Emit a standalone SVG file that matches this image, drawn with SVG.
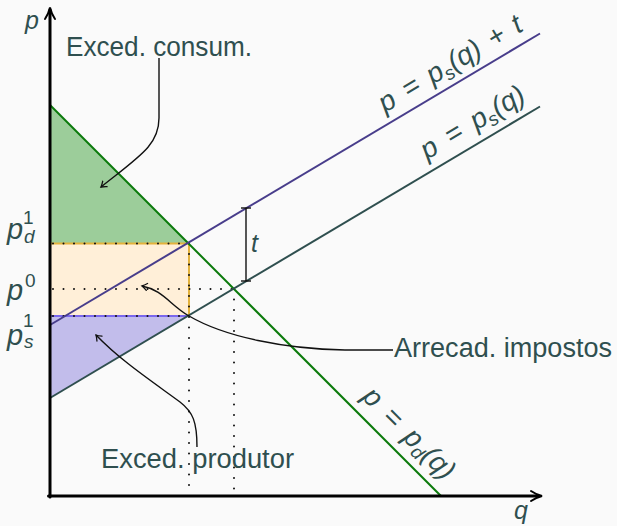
<svg xmlns="http://www.w3.org/2000/svg" width="617" height="526" viewBox="0 0 617 526">
  <defs>
    <marker id="tip" viewBox="-6 -5 8 10" markerWidth="8" markerHeight="10" refX="0" refY="0" orient="auto" markerUnits="userSpaceOnUse">
      <path d="M-5,-3.5 Q-2,-1 0,0 Q-2,1 -5,3.5" fill="none" stroke="#111" stroke-width="1.3" stroke-linecap="round"/>
    </marker>
  </defs>
  <style>
    .lbl { font-family: "Liberation Sans", Arial, sans-serif; font-size: 27px; fill: #2f4f4f; }
    .math { font-family: "Liberation Sans", Arial, sans-serif; font-style: italic; fill: #2f4f4f; }
    .num { font-family: "Liberation Sans", Arial, sans-serif; font-style: normal; font-size: 19px; fill: #2f4f4f; }
    .dot { stroke: #111; stroke-width: 2; stroke-linecap: round; stroke-dasharray: 0 10.5; fill: none; }
    .conn { fill: none; stroke: #111; stroke-width: 1.4; }
  </style>
  <rect x="0" y="0" width="617" height="526" fill="#fafafa"/>

  <g id="areas">
    <polygon id="consumer-surplus" points="50,105 189,243.5 50,243.5" fill="#9ccd9a"/>
    <rect id="tax-revenue" x="50" y="243.5" width="139" height="72.5" fill="#ffefd8"/>
    <polygon id="producer-surplus" points="50,316 189,316 50,398" fill="#c2bdeb"/>
    <line x1="50" y1="243.5" x2="189" y2="243.5" stroke="#e3b23c" stroke-width="2"/>
    <line x1="189" y1="243.5" x2="189" y2="316" stroke="#e3b23c" stroke-width="2"/>
    <line x1="50" y1="316" x2="189" y2="316" stroke="#7b68ee" stroke-width="2"/>
  </g>

  <g id="guides">
    <line class="dot" x1="53" y1="243.5" x2="189" y2="243.5"/>
    <line class="dot" x1="53" y1="289" x2="234" y2="289"/>
    <line class="dot" x1="53" y1="316" x2="189" y2="316"/>
    <line class="dot" x1="189" y1="243.5" x2="189" y2="494"/>
    <line class="dot" x1="234" y1="289" x2="234" y2="494"/>
  </g>

  <g id="curves">
    <line id="demand" x1="50" y1="105" x2="441" y2="496" stroke="#0b7a0b" stroke-width="2"/>
    <line id="supply" x1="50" y1="398" x2="540" y2="106.5" stroke="#2f4f4f" stroke-width="2"/>
    <line id="supply-tax" x1="50" y1="325" x2="540" y2="33.5" stroke="#483d8b" stroke-width="2"/>
  </g>

  <g id="t-bracket" stroke="#111" stroke-width="1.4">
    <line x1="246" y1="208" x2="246" y2="281"/>
    <line x1="241" y1="208" x2="251" y2="208"/>
    <line x1="241" y1="281" x2="251" y2="281"/>
  </g>

  <g id="axes" stroke="#000" fill="none" stroke-linecap="round">
    <line x1="50" y1="497" x2="50" y2="10" stroke-width="3"/>
    <line x1="48.5" y1="496" x2="538" y2="496" stroke-width="3"/>
    <path d="M45,19 Q48.5,14 50,7.5 Q51.5,14 55,19" stroke-width="2"/>
    <path d="M531,491 Q536,494.5 542,496 Q536,497.5 531,501" stroke-width="2"/>
  </g>

  <g id="connectors">
    <path class="conn" d="M159,58 V118 C159,145 140,156 101,187" marker-end="url(#tip)"/>
    <path class="conn" d="M393,350 L345,350 C285,349 225,337 189,316 C170,305 163,290 142,286" marker-end="url(#tip)"/>
    <path class="conn" d="M197,447 C197,422 193,412 180,402 C150,380 120,360 96,335" marker-end="url(#tip)"/>
  </g>

  <g id="labels">
    <text class="math" x="25" y="29" font-size="25">p</text>
    <text class="math" x="514" y="519" font-size="25">q</text>
    <text class="math" x="251" y="252" font-size="25">t</text>

    <g id="label-pd1">
      <text class="math" x="7" y="239" font-size="29">p</text>
      <text class="num" x="23" y="224">1</text>
      <text class="math" x="24" y="243" font-size="19">d</text>
    </g>
    <g id="label-p0">
      <text class="math" x="7" y="300" font-size="29">p</text>
      <text class="num" x="25" y="287">0</text>
    </g>
    <g id="label-ps1">
      <text class="math" x="7" y="345" font-size="29">p</text>
      <text class="num" x="23" y="327">1</text>
      <text class="math" x="24" y="348" font-size="19">s</text>
    </g>

    <g id="label-supply-tax" transform="translate(385,113) rotate(-30.75)">
      <text class="math" x="0" y="0" font-size="28" word-spacing="4">p = p<tspan font-size="19" dy="5">s</tspan><tspan dy="-5">(q) + t</tspan></text>
    </g>
    <g id="label-supply" transform="translate(427,160) rotate(-30.75)">
      <text class="math" x="0" y="0" font-size="28" word-spacing="5">p = p<tspan font-size="19" dy="5">s</tspan><tspan dy="-5">(q)</tspan></text>
    </g>
    <g id="label-demand" transform="translate(361,398) rotate(45)">
      <text class="math" x="0" y="0" font-size="28" word-spacing="5">p = p<tspan font-size="19" dy="5">d</tspan><tspan dy="-5">(q)</tspan></text>
    </g>
  </g>

  <g id="node-exced-consum"><text class="lbl" x="66" y="56" textLength="186" lengthAdjust="spacingAndGlyphs">Exced.  consum.</text></g>
  <g id="node-arrecad"><text class="lbl" x="394" y="357" textLength="218" lengthAdjust="spacingAndGlyphs">Arrecad. impostos</text></g>
  <g id="node-exced-produtor"><text class="lbl" x="101" y="468" textLength="193" lengthAdjust="spacingAndGlyphs">Exced. produtor</text></g>
</svg>
